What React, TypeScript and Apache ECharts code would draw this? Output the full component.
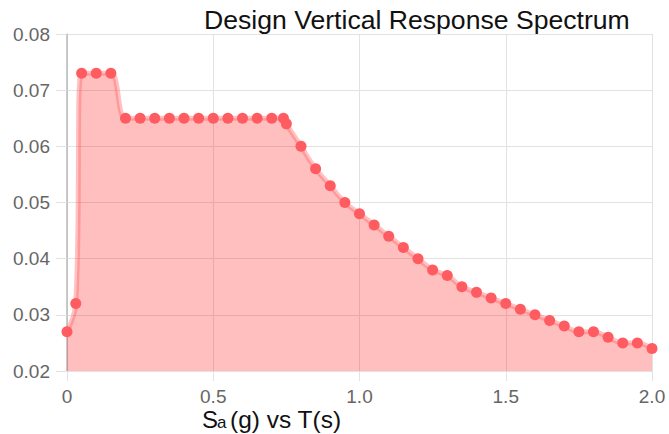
import React, { useEffect, useRef } from "react";
import * as echarts from "echarts";

const periods = [0, 0.03, 0.05, 0.1, 0.15, 0.2, 0.25, 0.3, 0.35, 0.4, 0.45, 0.5, 0.55, 0.6, 0.65, 0.7, 0.74, 0.75, 0.8, 0.85, 0.9, 0.95, 1.0, 1.05, 1.1, 1.15, 1.2, 1.25, 1.3, 1.35, 1.4, 1.45, 1.5, 1.55, 1.6, 1.65, 1.7, 1.75, 1.8, 1.85, 1.9, 1.95, 2.0];
const sa = [0.027, 0.032, 0.073, 0.073, 0.073, 0.065, 0.065, 0.065, 0.065, 0.065, 0.065, 0.065, 0.065, 0.065, 0.065, 0.065, 0.065, 0.064, 0.06, 0.056, 0.053, 0.05, 0.048, 0.046, 0.044, 0.042, 0.04, 0.038, 0.037, 0.035, 0.034, 0.033, 0.032, 0.031, 0.03, 0.029, 0.028, 0.027, 0.027, 0.026, 0.025, 0.025, 0.024];

const titleText = "Design Vertical Response Spectrum";
const FONT = "'Liberation Sans', Arial, Helvetica, sans-serif";

export default function App() {
  const ref = useRef<HTMLDivElement>(null);
  useEffect(() => {
    if (!ref.current) return;
    const chart = echarts.init(ref.current, undefined, { renderer: "svg" });
    const data = periods.map((t, i) => [t, sa[i]]);
    chart.setOption({
      animation: false,
      grid: { left: 67, right: 17, top: 34, bottom: 63, containLabel: false },
      xAxis: {
        type: "value",
        min: 0,
        max: 2,
        interval: 0.5,
        axisLine: { show: false },
        axisTick: { show: true, length: 10, lineStyle: { color: "#e2e2e2" } },
        splitLine: { show: true, lineStyle: { color: "#e2e2e2", width: 1 } },
        axisLabel: {
          color: "#666",
          fontSize: 19,
          fontFamily: FONT,
          margin: 16,
          formatter: (v: number) => (v === 0 ? "0" : v.toFixed(1)),
        },
      },
      yAxis: {
        type: "value",
        min: 0.02,
        max: 0.08,
        interval: 0.01,
        axisLine: { show: true, lineStyle: { color: "#b8b8b8", width: 1.5 } },
        axisTick: { show: true, length: 11, lineStyle: { color: "#e2e2e2" } },
        splitLine: { show: true, lineStyle: { color: "#e2e2e2", width: 1 } },
        axisLabel: {
          color: "#666",
          fontSize: 19,
          fontFamily: FONT,
          margin: 17,
          formatter: (v: number) => v.toFixed(2),
        },
      },
      series: [
        {
          type: "line",
          data,
          smooth: 0.4,
          symbol: "circle",
          symbolSize: 11,
          showAllSymbol: true,
          itemStyle: { color: "#ff5c61" },
          lineStyle: { color: "rgba(255,99,99,0.4)", width: 5 },
          areaStyle: { color: "rgba(255,0,0,0.25)", opacity: 1, origin: "start" },
        },
      ],
      graphic: [
        {
          type: "text",
          x: 204,
          y: 20,
          style: { text: titleText, fill: "#111", fontSize: 26.6, fontFamily: FONT, verticalAlign: "middle", align: "left" },
        },
        {
          type: "text",
          x: 202,
          y: 419,
          style: { text: "S", fill: "#111", fontSize: 24, fontFamily: FONT, verticalAlign: "middle", align: "left" },
        },
        {
          type: "text",
          x: 217,
          y: 422,
          style: { text: "a", fill: "#111", fontSize: 17, fontFamily: FONT, verticalAlign: "middle", align: "left" },
        },
        {
          type: "text",
          x: 230,
          y: 419,
          style: { text: "(g) vs T(s)", fill: "#111", fontSize: 24.5, fontFamily: FONT, verticalAlign: "middle", align: "left" },
        },
      ],
    });
    return () => chart.dispose();
  }, []);
  return <div ref={ref} style={{ width: 669, height: 434, position: "absolute", left: 0, top: 0 }} />;
}
